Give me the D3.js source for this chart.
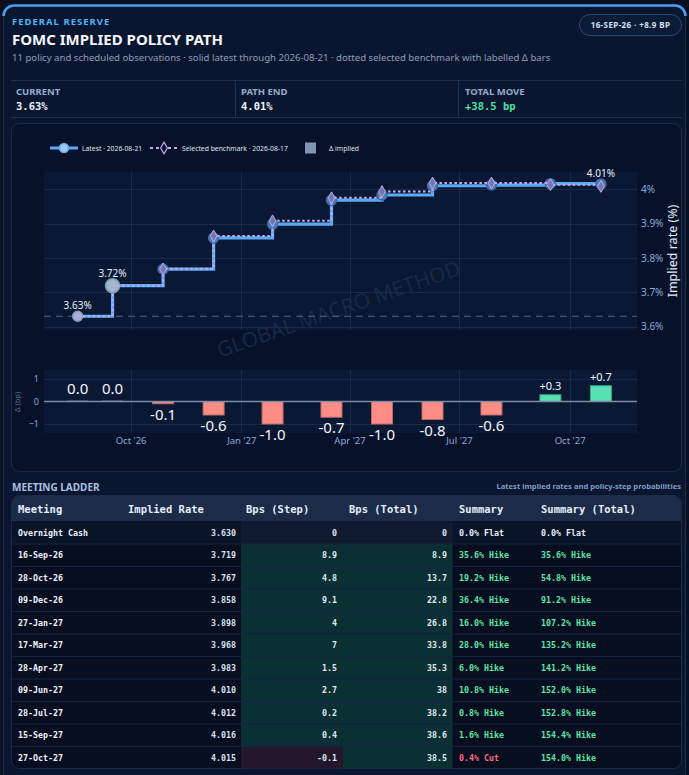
<!DOCTYPE html>
<html>
<head>
    <title>FOMC implied policy path</title>
    <script src="https://d3js.org/d3.v7.min.js"></script>
    <style>
        body{
            margin: 0;
            background: #08101f;
        }
        svg text{
            font-family: 'Noto Sans', 'Open Sans', sans-serif;
        }
        .mono{
            font-family: 'DejaVu Sans Mono', 'Liberation Mono', monospace !important;
            font-weight: bold;
        }
    </style>
</head>
<body>
    <svg id="viz"></svg>

    <script>
        // ---- data ----
        var meetings = ["Overnight Cash","16-Sep-26","28-Oct-26","09-Dec-26","27-Jan-27","17-Mar-27",
                        "28-Apr-27","09-Jun-27","28-Jul-27","15-Sep-27","27-Oct-27"];
        var meetingDates = ["2026-08-18","2026-09-16","2026-10-28","2026-12-09","2027-01-27","2027-03-17",
                            "2027-04-28","2027-06-09","2027-07-28","2027-09-15","2027-10-27"];
        var latestRate = [3.630,3.719,3.767,3.858,3.898,3.968,3.983,4.010,4.012,4.016,4.015];
        var benchRate = [3.630,3.719,3.768,3.864,3.908,3.975,3.993,4.018,4.018,4.013,4.008];
        var deltaBp = [0.0,0.0,-0.1,-0.6,-1.0,-0.7,-1.0,-0.8,-0.6,0.3,0.7];
        var bpsStep = [0,8.9,4.8,9.1,4,7,1.5,2.7,0.2,0.4,-0.1];
        var bpsTotal = [0,8.9,13.7,22.8,26.8,33.8,35.3,38,38.2,38.6,38.5];
        var summary = ["0.0% Flat","35.6% Hike","19.2% Hike","36.4% Hike","16.0% Hike","28.0% Hike",
                       "6.0% Hike","10.8% Hike","0.8% Hike","1.6% Hike","0.4% Cut"];
        var summaryTotal = ["0.0% Flat","35.6% Hike","54.8% Hike","91.2% Hike","107.2% Hike","135.2% Hike",
                            "141.2% Hike","152.0% Hike","152.8% Hike","154.4% Hike","154.0% Hike"];
        var rateTicks = [3.6,3.7,3.8,3.9,4.0];
        var deltaTicks = [-1,0,1];
        var labelledPoints = [0,1,10];
        var kpis = [
            {label: "CURRENT", value: "3.63%"},
            {label: "PATH END", value: "4.01%"},
            {label: "TOTAL MOVE", value: "+38.5 bp"}
        ];
        var tableHeads = ["Meeting","Implied Rate","Bps (Step)","Bps (Total)","Summary","Summary (Total)"];

        var parse = d3.timeParse("%Y-%m-%d");
        var rows = meetings.map(function(m, i)
        {
            return {
                meeting: m,
                date: parse(meetingDates[i]),
                latest: latestRate[i],
                bench: benchRate[i],
                delta: deltaBp[i],
                step: bpsStep[i],
                total: bpsTotal[i],
                sum: summary[i],
                sumTot: summaryTotal[i]
            };
        });

        var W = 689, H = 775;
        var svg = d3.select("#viz").attr("width", W).attr("height", H);

        // ---- card ----
        svg.append("rect").attr("x",3.5).attr("y",5.5).attr("width",682).attr("height",785)
            .attr("rx",10).attr("fill","#0a1630").attr("stroke","#1c2e4e");
        svg.append("path").attr("d","M3.5,16 A10.5,10.5 0 0 1 14,5.5 H675 A10.5,10.5 0 0 1 685.5,16")
            .attr("fill","none").attr("stroke","#4d9df0").attr("stroke-width",2.5);

        svg.append("text").attr("x",12).attr("y",24.5).text("FEDERAL RESERVE")
            .attr("fill","#4db4f5").attr("font-size","9.5px").attr("font-weight","bold")
            .attr("letter-spacing","1px");
        svg.append("text").attr("x",12).attr("y",45).text("FOMC IMPLIED POLICY PATH")
            .attr("fill","#f4f7fc").attr("font-size","15px").attr("font-weight","bold");
        svg.append("text").attr("x",12).attr("y",61)
            .text("11 policy and scheduled observations \u00b7 solid latest through 2026-08-21 \u00b7 dotted selected benchmark with labelled \u0394 bars")
            .attr("fill","#8d9db4").attr("font-size","9.6px");

        // badge
        svg.append("rect").attr("x",579.5).attr("y",14.5).attr("width",102).attr("height",21)
            .attr("rx",10.5).attr("fill","#0c1b36").attr("stroke","#2b4870");
        svg.append("text").attr("x",630.5).attr("y",28).attr("text-anchor","middle")
            .text("16-SEP-26 \u00b7 +8.9 BP").attr("fill","#cfe0f5")
            .attr("font-size","8px").attr("font-weight","bold").attr("letter-spacing","0.4px");

        // ---- KPI strip ----
        svg.append("line").attr("x1",11).attr("x2",682).attr("y1",80.5).attr("y2",80.5).attr("stroke","#1d3050");
        svg.append("line").attr("x1",11).attr("x2",682).attr("y1",117.5).attr("y2",117.5).attr("stroke","#1d3050");
        var kpiX = [16, 241, 465];
        [235.5, 458.5].forEach(function(x)
        {
            svg.append("line").attr("x1",x).attr("x2",x).attr("y1",81).attr("y2",117).attr("stroke","#1d3050");
        });
        kpis.forEach(function(k, i)
        {
            svg.append("text").attr("x",kpiX[i]).attr("y",95).text(k.label)
                .attr("fill","#94aacb").attr("font-size","9.5px").attr("font-weight","bold");
            svg.append("text").attr("class","mono").attr("x",kpiX[i]).attr("y",110).text(k.value)
                .attr("fill", i == 2 ? "#4fe0a2" : "#eef3fb").attr("font-size","10.5px");
        });

        // ---- chart panel ----
        svg.append("rect").attr("x",11.5).attr("y",123.5).attr("width",670).attr("height",348)
            .attr("rx",8).attr("fill","#07122a").attr("stroke","#1a2b48");

        var left = 44, right = 637;
        var x = d3.scaleTime()
                  .domain([parse("2026-07-21"), parse("2027-11-26")])
                  .range([left, right]);
        var y = d3.scaleLinear().domain([3.59, 4.05]).range([330, 172]);
        var yd = d3.scaleLinear().domain([-1.4, 1.4]).range([433, 370]);
        var monthTicks = x.ticks(d3.timeMonth.every(3));

        // plot backgrounds
        svg.append("rect").attr("x",left).attr("y",172).attr("width",right-left).attr("height",158).attr("fill","#0a1833");
        svg.append("rect").attr("x",left).attr("y",370).attr("width",right-left).attr("height",63).attr("fill","#0a1833");

        // watermark
        svg.append("text").attr("transform","translate(341,316) rotate(-19)")
            .attr("text-anchor","middle").text("GLOBAL MACRO METHOD")
            .attr("fill","#1a2b48").attr("font-size","21px").attr("opacity",0.9);

        // grids
        var grid = svg.append("g").attr("stroke","#172a47").attr("stroke-width",1);
        grid.selectAll(".vg").data(monthTicks).enter().append("line")
            .attr("x1",function(d){ return Math.round(x(d))+0.5; })
            .attr("x2",function(d){ return Math.round(x(d))+0.5; })
            .attr("y1",172).attr("y2",330);
        grid.selectAll(".vg2").data(monthTicks).enter().append("line")
            .attr("x1",function(d){ return Math.round(x(d))+0.5; })
            .attr("x2",function(d){ return Math.round(x(d))+0.5; })
            .attr("y1",370).attr("y2",433);
        grid.selectAll(".hg").data(rateTicks).enter().append("line")
            .attr("x1",left).attr("x2",right)
            .attr("y1",function(d){ return Math.round(y(d))+0.5; })
            .attr("y2",function(d){ return Math.round(y(d))+0.5; });
        grid.selectAll(".hg2").data(deltaTicks.filter(function(d){ return d != 0; })).enter().append("line")
            .attr("x1",left).attr("x2",right)
            .attr("y1",function(d){ return Math.round(yd(d))+0.5; })
            .attr("y2",function(d){ return Math.round(yd(d))+0.5; });

        // right axis
        var yAxis = d3.axisRight(y).tickValues(rateTicks).tickSize(0).tickPadding(4)
                      .tickFormat(function(d){ return (+d.toFixed(1)) + "%"; });
        var gy = svg.append("g").attr("transform","translate(" + right + ",0)").call(yAxis);
        gy.select(".domain").remove();
        gy.selectAll("text").attr("fill","#89aad6").attr("font-size","10px")
            .style("font-family","'Noto Sans', sans-serif");
        svg.append("text").attr("transform","translate(677,251) rotate(-90)").attr("text-anchor","middle")
            .text("Implied rate (%)").attr("fill","#e6eef8").attr("font-size","12.5px");

        // delta axis
        var ydAxis = d3.axisLeft(yd).tickValues(deltaTicks).tickSize(0).tickPadding(5)
                       .tickFormat(function(d){ return d < 0 ? "\u2212" + Math.abs(d) : d; });
        var gyd = svg.append("g").attr("transform","translate(" + left + ",0)").call(ydAxis);
        gyd.select(".domain").remove();
        gyd.selectAll("text").attr("fill","#89aad6").attr("font-size","9px")
            .style("font-family","'Noto Sans', sans-serif");
        svg.append("text").attr("transform","translate(20,402) rotate(-90)").attr("text-anchor","middle")
            .text("\u0394 (bp)").attr("fill","#5a7398").attr("font-size","7.5px");

        // x axis under the delta panel
        var xAxis = d3.axisBottom(x).tickValues(monthTicks).tickSize(0).tickPadding(4)
                      .tickFormat(d3.timeFormat("%b '%y"));
        var gx = svg.append("g").attr("transform","translate(0,433)").call(xAxis);
        gx.select(".domain").remove();
        gx.selectAll("text").attr("fill","#89aad6").attr("font-size","9.5px")
            .style("font-family","'Noto Sans', sans-serif");

        // current rate reference
        svg.append("line").attr("x1",left).attr("x2",right)
            .attr("y1",y(latestRate[0])).attr("y2",y(latestRate[0]))
            .attr("stroke","#56657e").attr("stroke-width",1.2).attr("stroke-dasharray","7,5");

        // step lines
        var latestLine = d3.line().curve(d3.curveStepAfter)
                           .x(function(d){ return x(d.date); })
                           .y(function(d){ return y(d.latest); });
        var benchLine = d3.line().curve(d3.curveStepAfter)
                          .x(function(d){ return x(d.date); })
                          .y(function(d){ return y(d.bench); });
        svg.append("path").attr("d",latestLine(rows)).attr("fill","none")
            .attr("stroke","#5aabf7").attr("stroke-width",3.2);

        // latest markers
        svg.selectAll(".lm").data(rows).enter().append("circle")
            .attr("cx",function(d){ return x(d.date); })
            .attr("cy",function(d){ return y(d.latest); })
            .attr("r",function(d, i){ return i == 1 ? 7 : 5; })
            .attr("fill",function(d, i){ return i == 1 ? "#9fb8c9" : (i == 0 ? "#a9aed8" : "#4f7db8"); })
            .attr("stroke",function(d, i){ return i < 2 ? "#7f9fc0" : "#3a6aa5"; })
            .attr("stroke-width",1.5);

        svg.append("path").attr("d",benchLine(rows)).attr("fill","none")
            .attr("stroke","#c9a8ec").attr("stroke-width",2).attr("stroke-dasharray","2.5,2.5");

        // benchmark diamonds
        svg.selectAll(".bm").data(rows.slice(2)).enter().append("path")
            .attr("d",d3.symbol().type(d3.symbolDiamond).size(40))
            .attr("transform",function(d){ return "translate(" + x(d.date) + "," + y(d.bench) + ")"; })
            .attr("fill","#6f78b0").attr("stroke","#c3a6ea").attr("stroke-width",1);

        // point labels
        svg.selectAll(".pl").data(labelledPoints).enter().append("text")
            .attr("x",function(i){ return x(rows[i].date); })
            .attr("y",function(i){ return y(rows[i].latest) - (i == 1 ? 9 : 7); })
            .attr("text-anchor","middle")
            .text(function(i){ return rows[i].latest.toFixed(2) + "%"; })
            .attr("fill","#e8f0ff").attr("font-size","10px");

        // delta bars
        var barW = 21;
        svg.selectAll(".db").data(rows).enter().append("rect")
            .attr("x",function(d){ return x(d.date) - barW/2; })
            .attr("y",function(d){ return d.delta == 0 ? yd(0) - 1 : yd(Math.max(0, d.delta)); })
            .attr("width",barW)
            .attr("height",function(d){ return d.delta == 0 ? 1.5 : Math.abs(yd(d.delta) - yd(0)); })
            .attr("fill",function(d){ return d.delta > 0 ? "#58dfb2" : (d.delta < 0 ? "#ff8d86" : "#5b6b86"); })
            .attr("stroke",function(d){ return d.delta > 0 ? "#3aa784" : (d.delta < 0 ? "#b86a6a" : "none"); })
            .attr("stroke-width",1);
        svg.append("line").attr("x1",left).attr("x2",right).attr("y1",yd(0)).attr("y2",yd(0))
            .attr("stroke","#7d8ca5").attr("stroke-width",1.3);
        svg.selectAll(".dl").data(rows).enter().append("text")
            .attr("x",function(d){ return x(d.date); })
            .attr("y",function(d)
                        {
                            if (d.delta > 0) return yd(d.delta) - 5;
                            if (d.delta < 0) return yd(d.delta) + 16;
                            return yd(0) - 8;
                        })
            .attr("text-anchor","middle")
            .text(function(d){ return (d.delta > 0 ? "+" : "") + d.delta.toFixed(1); })
            .attr("fill","#f2f6fc")
            .attr("font-size",function(d){ return d.delta > 0 ? "11px" : "15px"; });

        // legend
        var lg = svg.append("g").attr("transform","translate(0,148)");
        lg.append("line").attr("x1",50).attr("x2",78).attr("stroke","#5aabf7").attr("stroke-width",3);
        lg.append("circle").attr("cx",64).attr("r",4.5).attr("fill","#a9c8f0").attr("stroke","#5aabf7").attr("stroke-width",1.5);
        lg.append("text").attr("x",82).attr("y",2.5).text("Latest \u00b7 2026-08-21")
            .attr("fill","#dfe8f5").attr("font-size","6.8px");
        lg.append("line").attr("x1",150).attr("x2",178).attr("stroke","#c9a8ec").attr("stroke-width",2)
            .attr("stroke-dasharray","3,3");
        lg.append("path").attr("d",d3.symbol().type(d3.symbolDiamond).size(40)).attr("transform","translate(164,0)")
            .attr("fill","#0a1630").attr("stroke","#c9a8ec").attr("stroke-width",1.2);
        lg.append("text").attr("x",182).attr("y",2.5).text("Selected benchmark \u00b7 2026-08-17")
            .attr("fill","#dfe8f5").attr("font-size","6.8px");
        lg.append("rect").attr("x",305).attr("y",-5.5).attr("width",11).attr("height",11).attr("fill","#8195b3");
        lg.append("text").attr("x",329).attr("y",2.5).text("\u0394 implied")
            .attr("fill","#dfe8f5").attr("font-size","6.8px");

        // ---- meeting ladder ----
        svg.append("text").attr("x",12).attr("y",490.5).text("MEETING LADDER")
            .attr("fill","#a8c0e0").attr("font-size","10px").attr("font-weight","bold");
        svg.append("text").attr("x",681).attr("y",489).attr("text-anchor","end")
            .text("Latest implied rates and policy-step probabilities")
            .attr("fill","#7d9ac4").attr("font-size","7.6px").attr("font-weight","bold");

        var tTop = 495.5, headH = 25.5, rowH = 22.5;
        var tb = svg.append("g");
        tb.append("rect").attr("x",11.5).attr("y",tTop).attr("width",670).attr("height",headH + rowH*rows.length)
            .attr("rx",8).attr("fill","#060e1f").attr("stroke","#1a2b48");
        tb.append("path")
            .attr("d","M12," + (tTop+headH) + " V" + (tTop+8) + " A7.5,7.5 0 0 1 19.5," + (tTop+0.5) +
                      " H673.5 A7.5,7.5 0 0 1 681," + (tTop+8) + " V" + (tTop+headH) + " Z")
            .attr("fill","#1c2b48");

        var headX = [18, 128, 246, 349, 459, 541];
        tableHeads.forEach(function(h, i)
        {
            tb.append("text").attr("class","mono").attr("x",headX[i]).attr("y",tTop + 17)
                .text(h).attr("fill","#e6eefa").attr("font-size","10.5px");
        });

        function cellFill(v)
        {
            if (v > 0) return "#0a3033";
            if (v < 0) return "#24172b";
            return "#101b31";
        }

        var row = tb.selectAll(".row").data(rows).enter().append("g")
                    .attr("transform",function(d, i){ return "translate(0," + (tTop + headH + i*rowH) + ")"; });
        row.filter(function(d, i){ return i == 0; }).append("rect")
            .attr("x",12).attr("width",669).attr("height",rowH).attr("fill","#0a1429");
        row.append("rect").attr("x",241).attr("width",102).attr("height",rowH)
            .attr("fill",function(d){ return cellFill(d.step); });
        row.append("rect").attr("x",343).attr("width",109.5).attr("height",rowH)
            .attr("fill",function(d){ return cellFill(d.total); });
        row.filter(function(d, i){ return i > 0; }).append("line")
            .attr("x1",12).attr("x2",681).attr("y1",0.5).attr("y2",0.5).attr("stroke","#15243e");

        function cell(g, xp, anchor, fn, col)
        {
            g.append("text").attr("class","mono").attr("x",xp).attr("y",14.5)
                .attr("text-anchor",anchor).text(fn).attr("fill",col).attr("font-size","8.3px");
        }
        function sumColour(s)
        {
            if (s.indexOf("Hike") >= 0) return "#5fe3a8";
            if (s.indexOf("Cut") >= 0) return "#ff6b80";
            return "#e6eefa";
        }
        cell(row, 18, "start", function(d){ return d.meeting; }, "#eef3fb");
        cell(row, 236, "end", function(d){ return d.latest.toFixed(3); }, "#d6e1ef");
        cell(row, 337, "end", function(d){ return String(d.step); }, "#dfe8f2");
        cell(row, 447, "end", function(d){ return String(d.total); }, "#dfe8f2");
        cell(row, 459, "start", function(d){ return d.sum; }, function(d){ return sumColour(d.sum); });
        cell(row, 541, "start", function(d){ return d.sumTot; }, function(d){ return sumColour(d.sumTot); });
    </script>
</body>
</html>
